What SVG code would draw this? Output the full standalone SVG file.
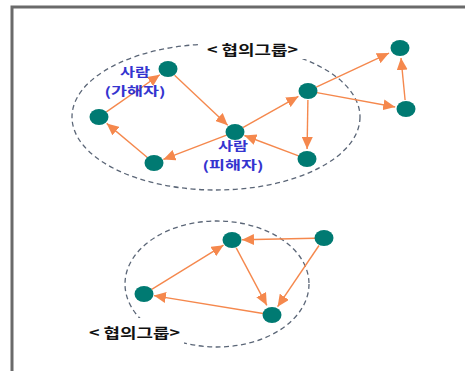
<svg xmlns="http://www.w3.org/2000/svg" width="465" height="371" viewBox="0 0 465 371">
<style>
.node{fill:#007a72;}
.edge{stroke:#f5884d;stroke-width:1.4;fill:none;marker-end:url(#ah);}
.grp{fill:none;stroke:#5b6677;stroke-width:1.3;stroke-dasharray:5 3.5;}
.lbl{font-family:"Noto Sans CJK KR","Liberation Sans",sans-serif;font-weight:bold;font-size:14px;fill:#111;}
.who{font-family:"Noto Sans CJK KR","Liberation Sans",sans-serif;font-weight:bold;font-size:12.5px;fill:#3434cf;text-anchor:middle;}
</style>
<defs>
<marker id="ah" markerUnits="userSpaceOnUse" markerWidth="13" markerHeight="11" refX="12" refY="5.5" orient="auto">
<path d="M0,0 L12,5.5 L0,11 z" fill="#f5884d"/>
</marker>
</defs>
<rect x="0" y="0" width="465" height="371" fill="#fff"/>
<rect x="12" y="7" width="480" height="390" fill="none" stroke="#6a6a6a" stroke-width="3"/>

<g id="groups">
<ellipse class="grp" cx="216" cy="117" rx="144" ry="73"/>
<ellipse class="grp" cx="217" cy="284" rx="92" ry="63"/>
<rect x="198" y="37" width="110" height="22" fill="#fff"/>
<rect x="84" y="318" width="100" height="30" fill="#fff"/>
<text class="lbl" x="207" y="55" textLength="91" lengthAdjust="spacingAndGlyphs">&lt; 협의그룹&gt;</text>
<text class="lbl" x="89" y="338" textLength="91" lengthAdjust="spacingAndGlyphs">&lt; 협의그룹&gt;</text>
</g>

<g id="connectors">
<line class="edge" x1="174.6" y1="75.2" x2="227.7" y2="125.2"/>
<line class="edge" x1="106.4" y1="111.9" x2="159.8" y2="74.7"/>
<line class="edge" x1="147.1" y1="157.2" x2="106.7" y2="123.4"/>
<line class="edge" x1="226.6" y1="135.2" x2="163.3" y2="159.4"/>
<line class="edge" x1="242.8" y1="127.6" x2="298.4" y2="96.4"/>
<line class="edge" x1="307.9" y1="100" x2="307.1" y2="149"/>
<line class="edge" x1="298.6" y1="155.8" x2="244.4" y2="135.5"/>
<line class="edge" x1="316.2" y1="87.2" x2="389" y2="53.1"/>
<line class="edge" x1="316.9" y1="92.6" x2="395.2" y2="107"/>
<line class="edge" x1="405.1" y1="100" x2="401" y2="58"/>
<line class="edge" x1="315" y1="238.2" x2="242" y2="239.8"/>
<line class="edge" x1="236.2" y1="247.9" x2="266.8" y2="305.3"/>
<line class="edge" x1="319" y1="245.5" x2="277.6" y2="306.7"/>
<line class="edge" x1="263.1" y1="313.5" x2="153.9" y2="295.6"/>
<line class="edge" x1="151.7" y1="289.3" x2="223.5" y2="245.2"/>
</g>

<g id="nA"><ellipse class="node" cx="168" cy="69" rx="9.5" ry="8"/></g>
<g id="nB"><ellipse class="node" cx="99" cy="117" rx="9.5" ry="8"/></g>
<g id="nC"><ellipse class="node" cx="154" cy="163" rx="9.5" ry="8"/></g>
<g id="nD"><ellipse class="node" cx="235" cy="132" rx="9.5" ry="8"/></g>
<g id="nE"><ellipse class="node" cx="308" cy="91" rx="9.5" ry="8"/></g>
<g id="nF"><ellipse class="node" cx="307" cy="159" rx="9.5" ry="8"/></g>
<g id="nG"><ellipse class="node" cx="400" cy="48" rx="9.5" ry="8"/></g>
<g id="nH"><ellipse class="node" cx="406" cy="109" rx="9.5" ry="8"/></g>
<g id="nP"><ellipse class="node" cx="232" cy="240" rx="9.5" ry="8"/></g>
<g id="nQ"><ellipse class="node" cx="324" cy="238" rx="9.5" ry="8"/></g>
<g id="nR"><ellipse class="node" cx="144" cy="294" rx="9.5" ry="8"/></g>
<g id="nS"><ellipse class="node" cx="272" cy="315" rx="9.5" ry="8"/></g>

<g id="labels">
<text class="who" x="135" y="77" textLength="30" lengthAdjust="spacingAndGlyphs">사람</text>
<text class="who" x="135" y="95.5" textLength="61" lengthAdjust="spacingAndGlyphs">(가해자)</text>
<text class="who" x="233" y="151" textLength="30" lengthAdjust="spacingAndGlyphs">사람</text>
<text class="who" x="233" y="169.5" textLength="61" lengthAdjust="spacingAndGlyphs">(피해자)</text>
</g>
</svg>
